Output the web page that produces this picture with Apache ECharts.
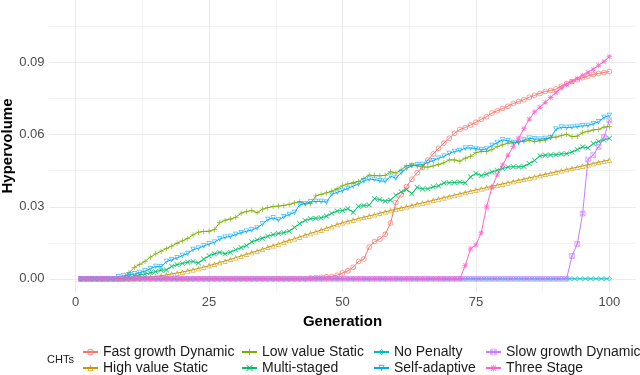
<!DOCTYPE html>
<html>
<head>
<meta charset="utf-8">
<script src="https://cdn.jsdelivr.net/npm/echarts@6/dist/echarts.min.js"></script>
<style>
  html, body { margin: 0; padding: 0; background: #fff; }
  #box { width: 640px; height: 375px; }
</style>
</head>
<body>
<div id="box"></div>
<script>
// generations 1..100 (x positions)
const generations = Array.from({ length: 100 }, (_, i) => i + 1)

const xMajor = [0, 25, 50, 75, 100]
const xMinor = [12.5, 37.5, 62.5, 87.5]
const yMajor = [0, 0.03, 0.06, 0.09]
const yMinor = [0.015, 0.045, 0.075, 0.105]

const chtNames = ['Fast growth Dynamic', 'High value Static', 'Low value Static', 'Multi-staged',
  'No Penalty', 'Self-adaptive', 'Slow growth Dynamic', 'Three Stage']

const fastGrowthDynamic = [
  0, 0, 0, 0, 0, 0, 0, 0, 0, 0,
  0, 0, 0, 0, 0, 0, 0, 0, 0, 0,
  0, 0, 0, 0, 0, 0, 0, 0, 0, 0,
  0, 0, 0, 0, 0, 0, 0, 0, 0, 0,
  0, 0, 0, 0.0003, 0.0005, 0.0006, 0.0008, 0.001, 0.0015, 0.0024,
  0.0033, 0.0048, 0.0072, 0.0082, 0.0132, 0.0155, 0.0166, 0.0185, 0.0232, 0.0318,
  0.035, 0.0384, 0.0415, 0.0442, 0.0465, 0.0495, 0.052, 0.0544, 0.0565, 0.0585,
  0.0606, 0.0622, 0.063, 0.064, 0.0652, 0.0664, 0.0675, 0.069, 0.07, 0.0709,
  0.0719, 0.073, 0.0738, 0.0746, 0.0756, 0.0764, 0.0772, 0.078, 0.0784, 0.079,
  0.0802, 0.0813, 0.0822, 0.0829, 0.0837, 0.0845, 0.0851, 0.0855, 0.0859, 0.0863
]
const highValueStatic = [
  0, 0, 0, 0, 0, 0, 0, 0, 0, 0.0001,
  0.0002, 0.0004, 0.0006, 0.0008, 0.001, 0.0013, 0.0016, 0.002, 0.0024, 0.0028,
  0.0033, 0.0038, 0.0043, 0.0049, 0.0055, 0.0061, 0.0068, 0.0074, 0.0081, 0.0088,
  0.0095, 0.0102, 0.0109, 0.0116, 0.0123, 0.0131, 0.0138, 0.0145, 0.0153, 0.016,
  0.0167, 0.0174, 0.0182, 0.0189, 0.0196, 0.0203, 0.0211, 0.0218, 0.0226, 0.0233,
  0.0239, 0.0245, 0.0251, 0.0256, 0.0262, 0.0267, 0.0273, 0.0279, 0.0284, 0.029,
  0.0295, 0.03, 0.0305, 0.0311, 0.0316, 0.0321, 0.0327, 0.0332, 0.0338, 0.0343,
  0.0348, 0.0354, 0.0359, 0.0365, 0.037, 0.0375, 0.038, 0.0385, 0.039, 0.0395,
  0.04, 0.0405, 0.041, 0.0415, 0.042, 0.0425, 0.043, 0.0435, 0.044, 0.0445,
  0.045, 0.0455, 0.046, 0.0465, 0.047, 0.0475, 0.048, 0.0485, 0.049, 0.0495
]
const lowValueStatic = [
  0, 0, 0, 0, 0, 0, 0, 0, 0.0002, 0.0025,
  0.0048, 0.006, 0.0073, 0.009, 0.0104, 0.0115, 0.0126, 0.0136, 0.0148, 0.0158,
  0.0168, 0.0183, 0.0194, 0.0197, 0.0198, 0.0205, 0.0234, 0.0244, 0.0249, 0.0256,
  0.0273, 0.028, 0.0284, 0.0275, 0.029, 0.0296, 0.0301, 0.0303, 0.0305, 0.031,
  0.0316, 0.0322, 0.0312, 0.0313, 0.0345, 0.0352, 0.0358, 0.0365, 0.0375, 0.0388,
  0.0395, 0.04, 0.0405, 0.0418, 0.0432, 0.043, 0.0429, 0.0431, 0.0446, 0.044,
  0.0454, 0.047, 0.0474, 0.047, 0.0466, 0.0465, 0.047, 0.0476, 0.0483, 0.0495,
  0.0495, 0.049, 0.0502, 0.051, 0.0525, 0.053, 0.053, 0.0538, 0.055, 0.0558,
  0.0565, 0.0566, 0.0571, 0.0572, 0.0577, 0.0571, 0.0575, 0.0578, 0.0589, 0.059,
  0.0596, 0.0602, 0.0592, 0.0594, 0.0608, 0.0614, 0.062, 0.0622, 0.0632, 0.0634
]
const multiStaged = [
  0, 0, 0, 0, 0, 0, 0, 0, 0.0003, 0.0007,
  0.0011, 0.0016, 0.002, 0.0025, 0.003, 0.0036, 0.0037, 0.0052, 0.0059, 0.0064,
  0.0069, 0.0072, 0.0066, 0.0082, 0.0096, 0.0104, 0.011, 0.0104, 0.0111, 0.0121,
  0.013, 0.0138, 0.0154, 0.0162, 0.0169, 0.0177, 0.0184, 0.0189, 0.0192, 0.0198,
  0.0214, 0.023, 0.0243, 0.025, 0.0252, 0.0254, 0.0261, 0.0273, 0.0282, 0.0284,
  0.0292, 0.0277, 0.0302, 0.0305, 0.0307, 0.0334, 0.033, 0.0323, 0.0328, 0.0348,
  0.0362, 0.0372, 0.0355, 0.0381, 0.0374, 0.0375, 0.0383, 0.0387, 0.0399, 0.04,
  0.0401, 0.0403, 0.0399, 0.0424, 0.0439, 0.043, 0.0436, 0.0445, 0.0452, 0.0459,
  0.0465, 0.0467, 0.0466, 0.0468, 0.048, 0.0493, 0.0512, 0.0515, 0.0516, 0.0517,
  0.052, 0.0521, 0.0528, 0.0538, 0.0549, 0.0545, 0.0563, 0.0572, 0.0578, 0.0585
]
const noPenalty = [
  0, 0, 0, 0, 0, 0, 0, 0, 0, 0,
  0, 0, 0, 0, 0, 0, 0, 0, 0, 0,
  0, 0, 0, 0, 0, 0, 0, 0, 0, 0,
  0, 0, 0, 0, 0, 0, 0, 0, 0, 0,
  0, 0, 0, 0, 0, 0, 0, 0, 0, 0,
  0, 0, 0, 0, 0, 0, 0, 0, 0, 0,
  0, 0, 0, 0, 0, 0, 0, 0, 0, 0,
  0, 0, 0, 0, 0, 0, 0, 0, 0, 0,
  0, 0, 0, 0, 0, 0, 0, 0, 0, 0,
  0, 0, 0, 0, 0, 0, 0, 0, 0, 0
]
const selfAdaptive = [
  0, 0, 0, 0, 0, 0, 0, 0.0008, 0.0012, 0.0017,
  0.002, 0.0026, 0.0032, 0.0042, 0.0051, 0.005, 0.0072, 0.0079, 0.0087, 0.0097,
  0.0105, 0.0122, 0.0127, 0.0137, 0.0145, 0.0152, 0.0166, 0.0173, 0.0176, 0.0184,
  0.0192, 0.0198, 0.0203, 0.0212, 0.0228, 0.0247, 0.0253, 0.0245, 0.0258, 0.0268,
  0.0276, 0.0308, 0.0313, 0.032, 0.0322, 0.0322, 0.0319, 0.0352, 0.036, 0.0368,
  0.0376, 0.0386, 0.0395, 0.0407, 0.0415, 0.0413, 0.0408, 0.0406, 0.0427, 0.0419,
  0.0442, 0.046, 0.0471, 0.0474, 0.0476, 0.0484, 0.0492, 0.0502, 0.051, 0.0522,
  0.053, 0.0534, 0.0544, 0.0545, 0.0542, 0.0537, 0.0541, 0.0555, 0.0567, 0.0578,
  0.0575, 0.0568, 0.0567, 0.0578, 0.0585, 0.0582, 0.0581, 0.0584, 0.0587, 0.0623,
  0.0631, 0.063, 0.0631, 0.0634, 0.0637, 0.0638, 0.0646, 0.0654, 0.0672, 0.068
]
const slowGrowthDynamic = [
  0, 0, 0, 0, 0, 0, 0, 0, 0, 0,
  0, 0, 0, 0, 0, 0, 0, 0, 0, 0,
  0, 0, 0, 0, 0, 0, 0, 0, 0, 0,
  0, 0, 0, 0, 0, 0, 0, 0, 0, 0,
  0, 0, 0, 0, 0, 0, 0, 0, 0, 0,
  0, 0, 0, 0, 0, 0, 0, 0, 0, 0,
  0, 0, 0, 0, 0, 0, 0, 0, 0, 0,
  0, 0, 0, 0, 0, 0, 0, 0, 0, 0,
  0, 0, 0, 0, 0, 0, 0, 0, 0, 0,
  0, 0, 0.0095, 0.0145, 0.0272, 0.0497, 0.0516, 0.055, 0.059, 0.066
]
const threeStage = [
  0, 0, 0, 0, 0, 0, 0, 0, 0, 0,
  0, 0, 0, 0, 0, 0, 0, 0, 0, 0,
  0, 0, 0, 0, 0, 0, 0, 0, 0, 0,
  0, 0, 0, 0, 0, 0, 0, 0, 0, 0,
  0, 0, 0, 0, 0, 0, 0, 0, 0, 0,
  0, 0, 0, 0, 0, 0, 0, 0, 0, 0,
  0, 0, 0, 0, 0, 0, 0, 0, 0, 0,
  0, 0, 0.0055, 0.0125, 0.0141, 0.0192, 0.03, 0.038, 0.0433, 0.0474,
  0.0515, 0.055, 0.0585, 0.0625, 0.0665, 0.0695, 0.0715, 0.0735, 0.0755, 0.0775,
  0.0795, 0.081, 0.0822, 0.0834, 0.0847, 0.086, 0.0873, 0.0889, 0.0905, 0.0925
]

const chtValues = [fastGrowthDynamic, highValueStatic, lowValueStatic, multiStaged,
  noPenalty, selfAdaptive, slowGrowthDynamic, threeStage]

// ggplot default hue palette
const colors = ['#F8766D', '#CD9600', '#7CAE00', '#00BE67', '#00BFC4', '#00A9FF', '#C77CFF', '#FF61CC']

// open shapes drawn as rings so lines show through (ggplot shapes 1..8)
const plusPath = 'M4.3,0H5.7V4.3H10V5.7H5.7V10H4.3V5.7H0V4.3H4.3Z'
const crossPath = 'M0.5,1.5L1.5,0.5L5,4L8.5,0.5L9.5,1.5L6,5L9.5,8.5L8.5,9.5L5,6L1.5,9.5L0.5,8.5L4,5Z'
const symbols = [
  'path://M5,0A5,5,0,1,1,5,10A5,5,0,1,1,5,0ZM5,1.4A3.6,3.6,0,1,0,5,8.6A3.6,3.6,0,1,0,5,1.4Z',
  'path://M5,0L10,9L0,9ZM5,2.6L1.8,7.8L8.2,7.8Z',
  'path://' + plusPath,
  'path://' + crossPath,
  'path://M5,0L10,5L5,10L0,5ZM5,1.8L1.8,5L5,8.2L8.2,5Z',
  'path://M0,0L10,0L5,9ZM1.8,1.2L5,6.4L8.2,1.2Z',
  'path://M0,0H10V10H0ZM1.2,1.2V8.8H8.8V1.2ZM1.2,2.2L2.2,1.2L5,4L7.8,1.2L8.8,2.2L6,5L8.8,7.8L7.8,8.8L5,6L2.2,8.8L1.2,7.8L4,5Z',
  'path://' + plusPath + crossPath
]

const series = chtNames.map((name, k) => ({
  type: 'line',
  name: name,
  data: generations.map((g, i) => [g, chtValues[k][i]]),
  symbol: symbols[k],
  symbolSize: 5.5,
  showSymbol: true,
  showAllSymbol: true,
  lineStyle: { width: 1, color: colors[k] },
  itemStyle: { color: colors[k], opacity: 0.8 },
  emphasis: { disabled: true },
  xAxisIndex: 0,
  yAxisIndex: 0
}))

// legend: 4 columns x 2 rows, filled column by column
const legendLeft = [82, 82, 241, 241, 373, 373, 485, 485]
const legendTop = [345, 361, 345, 361, 345, 361, 345, 361]

const font = '"Liberation Sans", Arial, sans-serif'
const gridColor = '#EBEBEB'

const options = {
  animation: false,
  backgroundColor: '#fff',
  textStyle: { fontFamily: font },
  grid: { left: 49, right: 4, top: 0, bottom: 83, outerBoundsMode: 'none', containLabel: false },
  xAxis: [
    {
      type: 'value', min: -5, max: 105,
      axisLine: { show: false },
      axisTick: { show: false, customValues: xMajor },
      axisLabel: { customValues: xMajor, color: '#4D4D4D', fontSize: 13, margin: 4, fontFamily: font },
      splitLine: { show: true, lineStyle: { color: gridColor, width: 1.1 } },
      name: 'Generation', nameLocation: 'middle', nameGap: 20,
      nameTextStyle: { fontWeight: 'bold', fontSize: 15, color: '#000', fontFamily: font }
    },
    {
      type: 'value', min: -5, max: 105, position: 'bottom',
      axisLine: { show: false },
      axisTick: { show: false, customValues: xMinor },
      axisLabel: { show: false, customValues: xMinor },
      splitLine: { show: true, lineStyle: { color: gridColor, width: 0.6 } }
    }
  ],
  yAxis: [
    {
      type: 'value', min: -0.0055, max: 0.1161,
      axisLine: { show: false },
      axisTick: { show: false, customValues: yMajor },
      axisLabel: {
        customValues: yMajor, color: '#4D4D4D', fontSize: 13, margin: 4.5, fontFamily: font,
        formatter: v => v.toFixed(2)
      },
      splitLine: { show: true, lineStyle: { color: gridColor, width: 1.1 } }
    },
    {
      type: 'value', min: -0.0055, max: 0.1161, position: 'left',
      axisLine: { show: false },
      axisTick: { show: false, customValues: yMinor },
      axisLabel: { show: false, customValues: yMinor },
      splitLine: { show: true, lineStyle: { color: gridColor, width: 0.6 } }
    }
  ],
  legend: chtNames.map((name, k) => ({
    left: legendLeft[k],
    top: legendTop[k],
    itemWidth: 15,
    itemHeight: 8,
    selectedMode: false,
    data: [name],
    textStyle: { fontSize: 14, lineHeight: 14, color: '#1A1A1A', fontFamily: font },
    padding: 0
  })),
  graphic: [
    {
      type: 'text', x: 8, y: 146, rotation: Math.PI / 2,
      style: {
        text: 'Hypervolume', fontSize: 15, fontWeight: 'bold', fill: '#000', fontFamily: font,
        align: 'center', verticalAlign: 'middle'
      }
    },
    {
      type: 'text', left: 47, top: 354,
      style: { text: 'CHTs', fontSize: 11, fill: '#1A1A1A', fontFamily: font }
    }
  ],
  series: series
}

const myEcharts = echarts.init(document.getElementById('box'))
myEcharts.setOption(options)
</script>
</body>
</html>
